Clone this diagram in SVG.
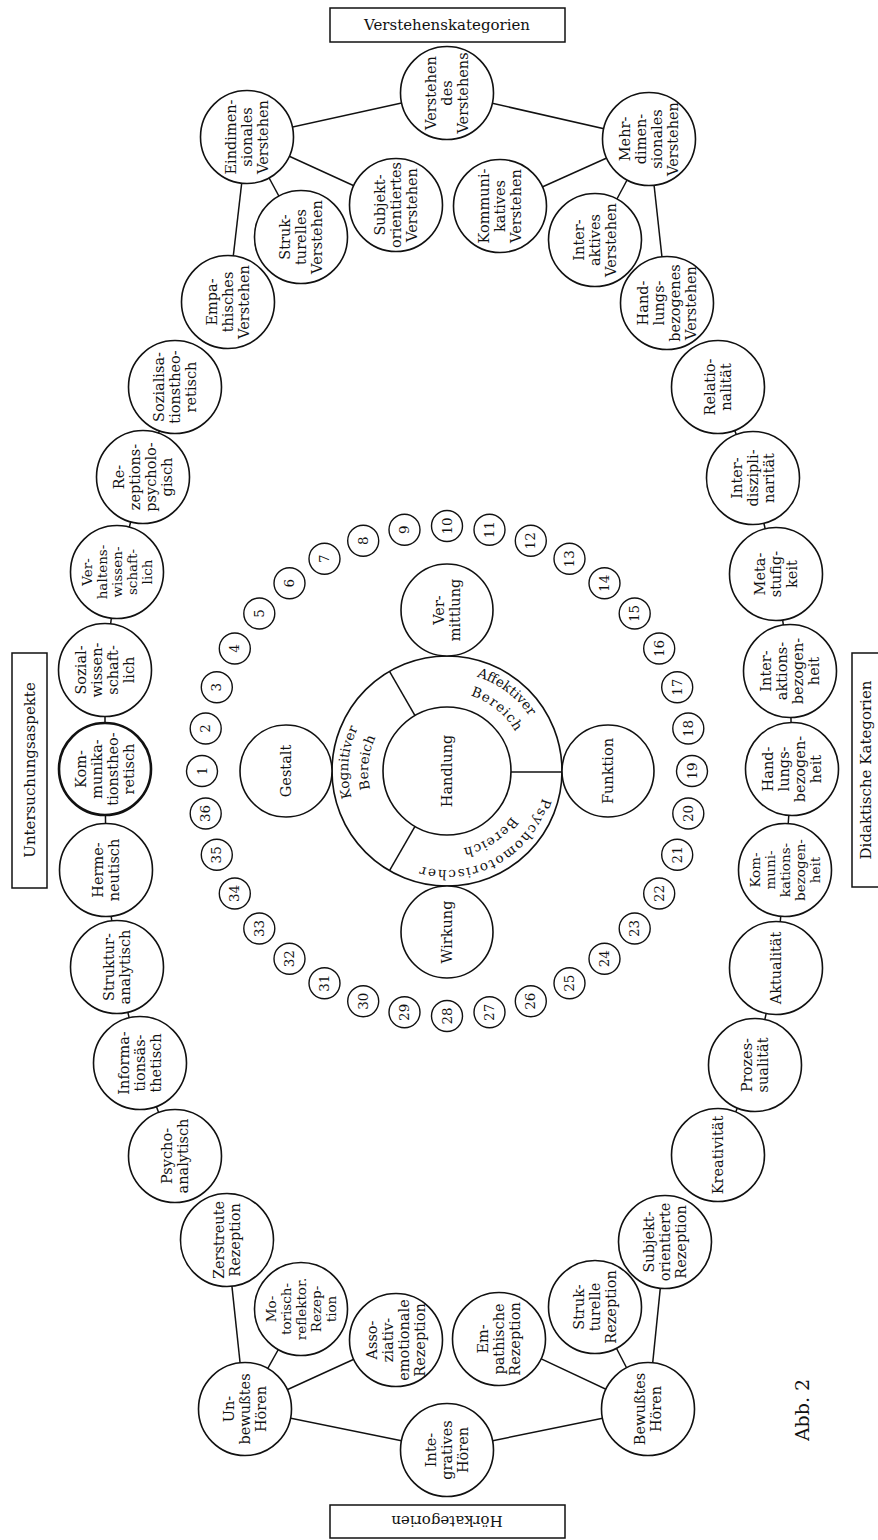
<svg xmlns="http://www.w3.org/2000/svg" width="878" height="1540" viewBox="0 0 878 1540">
<style>
.c{fill:#fff;stroke:#111;stroke-width:1.6}
.cb{fill:#fff;stroke:#111;stroke-width:2.6}
.s{fill:#fff;stroke:#111;stroke-width:1.4}
.e{stroke:#111;stroke-width:1.5;fill:none}
.box{fill:#fff;stroke:#111;stroke-width:1.5}
text{font-family:"DejaVu Serif","Liberation Serif",serif;fill:#111;text-anchor:middle}
.t{font-size:14.5px}
.t5{font-size:13.5px}
.num{font-size:13.5px}
.ring{font-size:13.5px}
.ttl{font-size:15px}
</style>
<defs>
<path id="pAff1" d="M 441.8 672.1 A 99 99 0 0 1 543.5 748.7"/>
<path id="pAff2" d="M 445.6 692.0 A 79 79 0 0 1 524.5 755.9"/>
<path id="pPsy1" d="M 545.5 781.3 A 99 99 0 0 1 403.6 860.0"/>
<path id="pPsy2" d="M 522.5 794.1 A 79 79 0 0 1 437.4 849.4"/>
<path id="pKog1" d="M 365.9 827.8 A 99 99 0 0 1 377.0 701.0"/>
<path id="pKog2" d="M 381.5 815.2 A 79 79 0 0 1 392.1 714.2"/>
</defs>
<rect width="878" height="1540" fill="#fff"/>

<g id="connectors" class="e">
<line x1="447" y1="93" x2="247" y2="137"/>
<line x1="447" y1="93" x2="649" y2="139"/>
<line x1="247" y1="137" x2="396" y2="205"/>
<line x1="247" y1="137" x2="301" y2="237"/>
<line x1="247" y1="137" x2="228" y2="302"/>
<line x1="649" y1="139" x2="500" y2="206"/>
<line x1="649" y1="139" x2="595" y2="240"/>
<line x1="649" y1="139" x2="667" y2="303"/>
<line x1="245" y1="1409" x2="227" y2="1240"/>
<line x1="245" y1="1409" x2="301" y2="1309"/>
<line x1="245" y1="1409" x2="396" y2="1340"/>
<line x1="245" y1="1409" x2="447" y2="1450"/>
<line x1="648" y1="1409" x2="447" y2="1450"/>
<line x1="648" y1="1409" x2="499" y2="1339"/>
<line x1="648" y1="1409" x2="595" y2="1307"/>
<line x1="648" y1="1409" x2="665" y2="1242"/>
<polyline points="175,387 143,477 117,572 105,670 105,769 106,870 117,967 140,1063 175,1156"/>
<polyline points="718,387 753,478 776,574 790,671 792,769 785,870 776,968 755,1065 718,1155"/>
</g>

<g id="title-verstehen"><rect class="box" x="330" y="8" width="235" height="34"/><text class="ttl" x="447" y="30">Verstehenskategorien</text></g>
<g id="title-untersuchung"><rect class="box" x="12" y="653" width="35" height="235"/><text class="ttl" transform="translate(30,770) rotate(-90)" y="5">Untersuchungsaspekte</text></g>
<g id="title-didaktik"><rect class="box" x="852" y="653" width="34" height="234"/><text class="ttl" transform="translate(866,770) rotate(-90)" y="5">Didaktische Kategorien</text></g>
<g id="title-hoer"><rect class="box" x="330" y="1505" width="235" height="33"/><text class="ttl" transform="translate(447,1521) rotate(180)" y="5">Hörkategorien</text></g>
<g id="caption"><text transform="translate(803,1410) rotate(-90)" y="6" style="font-size:19px">Abb. 2</text></g>

<!-- Verstehenskategorien -->
<g id="vdv" transform="translate(447,93) rotate(-90)"><circle class="c" r="46.5"/><text class="t"><tspan x="0" y="-11">Verstehen</tspan><tspan x="0" y="5">des</tspan><tspan x="0" y="21">Verstehens</tspan></text></g>
<g id="eindim" transform="translate(247,137) rotate(-90)"><circle class="c" r="46.5"/><text class="t"><tspan x="0" y="-11">Eindimen-</tspan><tspan x="0" y="5">sionales</tspan><tspan x="0" y="21">Verstehen</tspan></text></g>
<g id="mehrdim" transform="translate(649,139) rotate(-90)"><circle class="c" r="46.5"/><text class="t"><tspan x="0" y="-19">Mehr-</tspan><tspan x="0" y="-3">dimen-</tspan><tspan x="0" y="13">sionales</tspan><tspan x="0" y="29">Verstehen</tspan></text></g>
<g id="struktV" transform="translate(301,237) rotate(-90)"><circle class="c" r="46.5"/><text class="t"><tspan x="0" y="-11">Struk-</tspan><tspan x="0" y="5">turelles</tspan><tspan x="0" y="21">Verstehen</tspan></text></g>
<g id="subjV" transform="translate(396,205) rotate(-90)"><circle class="c" r="46.5"/><text class="t"><tspan x="0" y="-11">Subjekt-</tspan><tspan x="0" y="5">orientiertes</tspan><tspan x="0" y="21">Verstehen</tspan></text></g>
<g id="kommV" transform="translate(500,206) rotate(-90)"><circle class="c" r="46.5"/><text class="t"><tspan x="0" y="-11">Kommuni-</tspan><tspan x="0" y="5">katives</tspan><tspan x="0" y="21">Verstehen</tspan></text></g>
<g id="interV" transform="translate(595,240) rotate(-90)"><circle class="c" r="46.5"/><text class="t"><tspan x="0" y="-11">Inter-</tspan><tspan x="0" y="5">aktives</tspan><tspan x="0" y="21">Verstehen</tspan></text></g>
<g id="handV" transform="translate(667,303) rotate(-90)"><circle class="c" r="46.5"/><text class="t"><tspan x="0" y="-19">Hand-</tspan><tspan x="0" y="-3">lungs-</tspan><tspan x="0" y="13">bezogenes</tspan><tspan x="0" y="29">Verstehen</tspan></text></g>
<g id="empV" transform="translate(228,302) rotate(-90)"><circle class="c" r="46.5"/><text class="t"><tspan x="0" y="-11">Empa-</tspan><tspan x="0" y="5">thisches</tspan><tspan x="0" y="21">Verstehen</tspan></text></g>

<!-- Untersuchungsaspekte -->
<g id="sozth" transform="translate(175,387) rotate(-90)"><circle class="c" r="46.5"/><text class="t"><tspan x="0" y="-11">Sozialisa-</tspan><tspan x="0" y="5">tionstheo-</tspan><tspan x="0" y="21">retisch</tspan></text></g>
<g id="rezps" transform="translate(143,477) rotate(-90)"><circle class="c" r="46.5"/><text class="t"><tspan x="0" y="-19">Re-</tspan><tspan x="0" y="-3">zeptions-</tspan><tspan x="0" y="13">psycholo-</tspan><tspan x="0" y="29">gisch</tspan></text></g>
<g id="verh" transform="translate(117,572) rotate(-90)"><circle class="c" r="46.5"/><text class="t5"><tspan x="0" y="-25">Ver-</tspan><tspan x="0" y="-10">haltens-</tspan><tspan x="0" y="5">wissen-</tspan><tspan x="0" y="20">schaft-</tspan><tspan x="0" y="35">lich</tspan></text></g>
<g id="sozw" transform="translate(105,670) rotate(-90)"><circle class="c" r="46.5"/><text class="t"><tspan x="0" y="-19">Sozial-</tspan><tspan x="0" y="-3">wissen-</tspan><tspan x="0" y="13">schaft-</tspan><tspan x="0" y="29">lich</tspan></text></g>
<g id="kommth" transform="translate(105,769) rotate(-90)"><circle class="cb" r="46"/><text class="t"><tspan x="0" y="-19">Kom-</tspan><tspan x="0" y="-3">munika-</tspan><tspan x="0" y="13">tionstheo-</tspan><tspan x="0" y="29">retisch</tspan></text></g>
<g id="herm" transform="translate(106,870) rotate(-90)"><circle class="c" r="46.5"/><text class="t"><tspan x="0" y="-3">Herme-</tspan><tspan x="0" y="13">neutisch</tspan></text></g>
<g id="struka" transform="translate(117,967) rotate(-90)"><circle class="c" r="46.5"/><text class="t"><tspan x="0" y="-3">Struktur-</tspan><tspan x="0" y="13">analytisch</tspan></text></g>
<g id="info" transform="translate(140,1063) rotate(-90)"><circle class="c" r="46.5"/><text class="t"><tspan x="0" y="-11">Informa-</tspan><tspan x="0" y="5">tionsäs-</tspan><tspan x="0" y="21">thetisch</tspan></text></g>
<g id="psyan" transform="translate(175,1156) rotate(-90)"><circle class="c" r="46.5"/><text class="t"><tspan x="0" y="-3">Psycho-</tspan><tspan x="0" y="13">analytisch</tspan></text></g>

<!-- Hoerkategorien -->
<g id="zerstr" transform="translate(227,1240) rotate(-90)"><circle class="c" r="46.5"/><text class="t"><tspan x="0" y="-3">Zerstreute</tspan><tspan x="0" y="13">Rezeption</tspan></text></g>
<g id="unbew" transform="translate(245,1409) rotate(-90)"><circle class="c" r="46.5"/><text class="t"><tspan x="0" y="-11">Un-</tspan><tspan x="0" y="5">bewußtes</tspan><tspan x="0" y="21">Hören</tspan></text></g>
<g id="motor" transform="translate(301,1309) rotate(-90)"><circle class="c" r="46.5"/><text class="t5"><tspan x="0" y="-25">Mo-</tspan><tspan x="0" y="-10">torisch-</tspan><tspan x="0" y="5">reflektor.</tspan><tspan x="0" y="20">Rezep-</tspan><tspan x="0" y="35">tion</tspan></text></g>
<g id="asso" transform="translate(396,1340) rotate(-90)"><circle class="c" r="46.5"/><text class="t"><tspan x="0" y="-19">Asso-</tspan><tspan x="0" y="-3">ziativ-</tspan><tspan x="0" y="13">emotionale</tspan><tspan x="0" y="29">Rezeption</tspan></text></g>
<g id="empR" transform="translate(499,1339) rotate(-90)"><circle class="c" r="46.5"/><text class="t"><tspan x="0" y="-11">Em-</tspan><tspan x="0" y="5">pathische</tspan><tspan x="0" y="21">Rezeption</tspan></text></g>
<g id="strukR" transform="translate(595,1307) rotate(-90)"><circle class="c" r="46.5"/><text class="t"><tspan x="0" y="-11">Struk-</tspan><tspan x="0" y="5">turelle</tspan><tspan x="0" y="21">Rezeption</tspan></text></g>
<g id="subjR" transform="translate(665,1242) rotate(-90)"><circle class="c" r="46.5"/><text class="t"><tspan x="0" y="-11">Subjekt-</tspan><tspan x="0" y="5">orientierte</tspan><tspan x="0" y="21">Rezeption</tspan></text></g>
<g id="bewH" transform="translate(648,1409) rotate(-90)"><circle class="c" r="46.5"/><text class="t"><tspan x="0" y="-3">Bewußtes</tspan><tspan x="0" y="13">Hören</tspan></text></g>
<g id="integ" transform="translate(447,1450) rotate(-90)"><circle class="c" r="46.5"/><text class="t"><tspan x="0" y="-11">Inte-</tspan><tspan x="0" y="5">gratives</tspan><tspan x="0" y="21">Hören</tspan></text></g>

<!-- Didaktische Kategorien -->
<g id="relat" transform="translate(718,387) rotate(-90)"><circle class="c" r="46.5"/><text class="t"><tspan x="0" y="-3">Relatio-</tspan><tspan x="0" y="13">nalität</tspan></text></g>
<g id="interd" transform="translate(753,478) rotate(-90)"><circle class="c" r="46.5"/><text class="t"><tspan x="0" y="-11">Inter-</tspan><tspan x="0" y="5">diszipli-</tspan><tspan x="0" y="21">narität</tspan></text></g>
<g id="meta" transform="translate(776,574) rotate(-90)"><circle class="c" r="46.5"/><text class="t"><tspan x="0" y="-11">Meta-</tspan><tspan x="0" y="5">stufig-</tspan><tspan x="0" y="21">keit</tspan></text></g>
<g id="interakt" transform="translate(790,671) rotate(-90)"><circle class="c" r="46.5"/><text class="t"><tspan x="0" y="-19">Inter-</tspan><tspan x="0" y="-3">aktions-</tspan><tspan x="0" y="13">bezogen-</tspan><tspan x="0" y="29">heit</tspan></text></g>
<g id="handb" transform="translate(792,769) rotate(-90)"><circle class="c" r="46.5"/><text class="t"><tspan x="0" y="-19">Hand-</tspan><tspan x="0" y="-3">lungs-</tspan><tspan x="0" y="13">bezogen-</tspan><tspan x="0" y="29">heit</tspan></text></g>
<g id="kommb" transform="translate(785,870) rotate(-90)"><circle class="c" r="46.5"/><text class="t5"><tspan x="0" y="-25">Kom-</tspan><tspan x="0" y="-10">muni-</tspan><tspan x="0" y="5">kations-</tspan><tspan x="0" y="20">bezogen-</tspan><tspan x="0" y="35">heit</tspan></text></g>
<g id="aktual" transform="translate(776,968) rotate(-90)"><circle class="c" r="46.5"/><text class="t" y="5">Aktualität</text></g>
<g id="prozess" transform="translate(755,1065) rotate(-90)"><circle class="c" r="46.5"/><text class="t"><tspan x="0" y="-3">Prozes-</tspan><tspan x="0" y="13">sualität</tspan></text></g>
<g id="kreat" transform="translate(718,1155) rotate(-90)"><circle class="c" r="46.5"/><text class="t" y="5">Kreativität</text></g>

<!-- Centre -->
<g id="ring">
<circle class="c" cx="447" cy="771" r="115"/>
<circle class="c" cx="447" cy="771" r="64"/>
<line class="e" x1="415" y1="715.6" x2="389.5" y2="671.4"/>
<line class="e" x1="511" y1="772" x2="562" y2="772"/>
<line class="e" x1="415" y1="826.4" x2="389.5" y2="870.6"/>
<text class="ring"><textPath href="#pAff1" startOffset="50%">Affektiver</textPath><textPath href="#pAff2" startOffset="50%" style="letter-spacing:1px">Bereich</textPath></text>
<text class="ring"><textPath href="#pPsy1" startOffset="50%" style="letter-spacing:1.5px">Psychomotorischer</textPath><textPath href="#pPsy2" startOffset="50%" style="letter-spacing:1px">Bereich</textPath></text>
<text class="ring"><textPath href="#pKog1" startOffset="50%">Kognitiver</textPath><textPath href="#pKog2" startOffset="50%">Bereich</textPath></text>
</g>
<g id="handlung"><text class="t" transform="translate(447,771) rotate(-90)" y="5">Handlung</text></g>
<g id="vermittlung" transform="translate(447,610) rotate(-90)"><circle class="c" r="46"/><text class="t"><tspan x="0" y="-3">Ver-</tspan><tspan x="0" y="13">mittlung</tspan></text></g>
<g id="wirkung" transform="translate(447,932) rotate(-90)"><circle class="c" r="46"/><text class="t" y="5">Wirkung</text></g>
<g id="gestalt" transform="translate(286,771) rotate(-90)"><circle class="c" r="46"/><text class="t" y="5">Gestalt</text></g>
<g id="funktion" transform="translate(608,771) rotate(-90)"><circle class="c" r="46"/><text class="t" y="5">Funktion</text></g>

<!-- numbered circles -->
<g id="n1" transform="translate(202,771) rotate(-90)"><circle class="s" r="15.5"/><text class="num" y="4.5">1</text></g>
<g id="n2" transform="translate(205.7,728.5) rotate(-90)"><circle class="s" r="15.5"/><text class="num" y="4.5">2</text></g>
<g id="n3" transform="translate(216.8,687.2) rotate(-90)"><circle class="s" r="15.5"/><text class="num" y="4.5">3</text></g>
<g id="n4" transform="translate(234.8,648.5) rotate(-90)"><circle class="s" r="15.5"/><text class="num" y="4.5">4</text></g>
<g id="n5" transform="translate(259.3,613.5) rotate(-90)"><circle class="s" r="15.5"/><text class="num" y="4.5">5</text></g>
<g id="n6" transform="translate(289.5,583.3) rotate(-90)"><circle class="s" r="15.5"/><text class="num" y="4.5">6</text></g>
<g id="n7" transform="translate(324.5,558.8) rotate(-90)"><circle class="s" r="15.5"/><text class="num" y="4.5">7</text></g>
<g id="n8" transform="translate(363.2,540.8) rotate(-90)"><circle class="s" r="15.5"/><text class="num" y="4.5">8</text></g>
<g id="n9" transform="translate(404.5,529.7) rotate(-90)"><circle class="s" r="15.5"/><text class="num" y="4.5">9</text></g>
<g id="n10" transform="translate(447,526) rotate(-90)"><circle class="s" r="15.5"/><text class="num" y="4.5">10</text></g>
<g id="n11" transform="translate(489.5,529.7) rotate(-90)"><circle class="s" r="15.5"/><text class="num" y="4.5">11</text></g>
<g id="n12" transform="translate(530.8,540.8) rotate(-90)"><circle class="s" r="15.5"/><text class="num" y="4.5">12</text></g>
<g id="n13" transform="translate(569.5,558.8) rotate(-90)"><circle class="s" r="15.5"/><text class="num" y="4.5">13</text></g>
<g id="n14" transform="translate(604.5,583.3) rotate(-90)"><circle class="s" r="15.5"/><text class="num" y="4.5">14</text></g>
<g id="n15" transform="translate(634.7,613.5) rotate(-90)"><circle class="s" r="15.5"/><text class="num" y="4.5">15</text></g>
<g id="n16" transform="translate(659.2,648.5) rotate(-90)"><circle class="s" r="15.5"/><text class="num" y="4.5">16</text></g>
<g id="n17" transform="translate(677.2,687.2) rotate(-90)"><circle class="s" r="15.5"/><text class="num" y="4.5">17</text></g>
<g id="n18" transform="translate(688.3,728.5) rotate(-90)"><circle class="s" r="15.5"/><text class="num" y="4.5">18</text></g>
<g id="n19" transform="translate(692,771) rotate(-90)"><circle class="s" r="15.5"/><text class="num" y="4.5">19</text></g>
<g id="n20" transform="translate(688.3,813.5) rotate(-90)"><circle class="s" r="15.5"/><text class="num" y="4.5">20</text></g>
<g id="n21" transform="translate(677.2,854.8) rotate(-90)"><circle class="s" r="15.5"/><text class="num" y="4.5">21</text></g>
<g id="n22" transform="translate(659.2,893.5) rotate(-90)"><circle class="s" r="15.5"/><text class="num" y="4.5">22</text></g>
<g id="n23" transform="translate(634.7,928.5) rotate(-90)"><circle class="s" r="15.5"/><text class="num" y="4.5">23</text></g>
<g id="n24" transform="translate(604.5,958.7) rotate(-90)"><circle class="s" r="15.5"/><text class="num" y="4.5">24</text></g>
<g id="n25" transform="translate(569.5,983.2) rotate(-90)"><circle class="s" r="15.5"/><text class="num" y="4.5">25</text></g>
<g id="n26" transform="translate(530.8,1001.2) rotate(-90)"><circle class="s" r="15.5"/><text class="num" y="4.5">26</text></g>
<g id="n27" transform="translate(489.5,1012.3) rotate(-90)"><circle class="s" r="15.5"/><text class="num" y="4.5">27</text></g>
<g id="n28" transform="translate(447,1016) rotate(-90)"><circle class="s" r="15.5"/><text class="num" y="4.5">28</text></g>
<g id="n29" transform="translate(404.5,1012.3) rotate(-90)"><circle class="s" r="15.5"/><text class="num" y="4.5">29</text></g>
<g id="n30" transform="translate(363.2,1001.2) rotate(-90)"><circle class="s" r="15.5"/><text class="num" y="4.5">30</text></g>
<g id="n31" transform="translate(324.5,983.2) rotate(-90)"><circle class="s" r="15.5"/><text class="num" y="4.5">31</text></g>
<g id="n32" transform="translate(289.5,958.7) rotate(-90)"><circle class="s" r="15.5"/><text class="num" y="4.5">32</text></g>
<g id="n33" transform="translate(259.3,928.5) rotate(-90)"><circle class="s" r="15.5"/><text class="num" y="4.5">33</text></g>
<g id="n34" transform="translate(234.8,893.5) rotate(-90)"><circle class="s" r="15.5"/><text class="num" y="4.5">34</text></g>
<g id="n35" transform="translate(216.8,854.8) rotate(-90)"><circle class="s" r="15.5"/><text class="num" y="4.5">35</text></g>
<g id="n36" transform="translate(205.7,813.5) rotate(-90)"><circle class="s" r="15.5"/><text class="num" y="4.5">36</text></g>
</svg>
